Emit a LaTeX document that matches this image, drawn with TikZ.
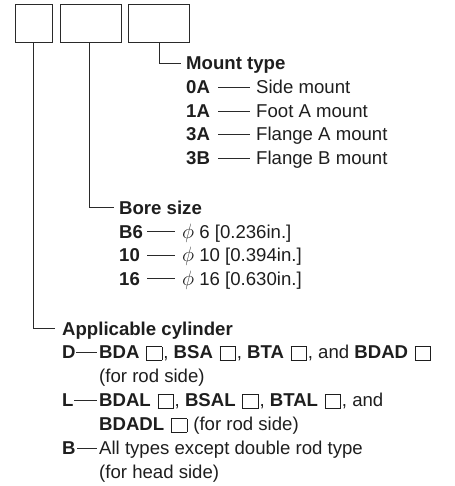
\documentclass[tikz,border=0pt]{standalone}
\usepackage{fontspec}
\setmainfont{Liberation Sans}
\usetikzlibrary{calc}
\definecolor{ink}{HTML}{1E1E1E}
\definecolor{lineclr}{HTML}{2A2A2A}
\newcommand{\sqbox}{\kern1.5pt{\setlength{\fboxsep}{0pt}\setlength{\fboxrule}{0.6pt}\raisebox{-1.5pt}{\fbox{\rule{0pt}{13pt}\rule{15pt}{0pt}}}}\kern1pt}
\newcommand{\phisym}{\raisebox{0pt}{\scalebox{1.2}{$\phi$}}}
\begin{document}
\begin{tikzpicture}[x=1pt,y=-1pt,
  txt/.style={inner sep=0pt,anchor=base west,font=\fontsize{18.6}{22}\selectfont,text=ink},
  hd/.style={txt,font=\fontsize{18.6}{22}\selectfont\bfseries},
  code/.style={txt,font=\fontsize{18.6}{22}\selectfont\bfseries},
  selbox/.style={draw=lineclr,line width=0.9pt,inner sep=0pt,anchor=north west},
  conn/.style={draw=lineclr,line width=0.9pt}]
\useasboundingbox (0,0) rectangle (454,486);
% boxes
\node[selbox,minimum width=36.5pt,minimum height=37.5pt] (b1) at (15.3,4.3) {};
\node[selbox,minimum width=60.4pt,minimum height=37.5pt] (b2) at (60.3,4.3) {};
\node[selbox,minimum width=60.4pt,minimum height=37.5pt] (b3) at (128.3,4.3) {};
% Mount type
\node[hd] (mt) at (186,70) {Mount type};
\node[code] (c0A) at (186,94) {0A};
\node[txt] (d0A) at (256,94) {Side mount};
\node[code] (c1A) at (186,117.5) {1A};
\node[txt] (d1A) at (256,117.5) {Foot A mount};
\node[code] (c3A) at (186,141) {3A};
\node[txt] (d3A) at (256,141) {Flange A mount};
\node[code] (c3B) at (186,164.5) {3B};
\node[txt] (d3B) at (256,164.5) {Flange B mount};
\foreach \c/\d in {c0A/d0A,c1A/d1A,c3A/d3A,c3B/d3B}{
  \draw[conn] ($(\c.base west)+(32,-6.5)$) -- ($(\d.base west)+(-6,-6.5)$);
}
% Bore size
\node[hd] (bs) at (119,214) {Bore size};
\node[code] (cB6) at (119,238) {B6};
\node[txt] (dB6) at (182,238) {\phisym\ 6 [0.236in.]};
\node[code] (c10) at (119,261.5) {10};
\node[txt] (d10) at (182,261.5) {\phisym\ 10 [0.394in.]};
\node[code] (c16) at (119,285) {16};
\node[txt] (d16) at (182,285) {\phisym\ 16 [0.630in.]};
\foreach \c/\d in {cB6/dB6,c10/d10,c16/d16}{
  \draw[conn] ($(\c.base west)+(28,-6.5)$) -- ($(\d.base west)+(-7,-6.5)$);
}
% Applicable cylinder
\node[hd] (ac) at (62,335) {Applicable cylinder};
\node[code] (cD) at (62,358.5) {D};
\node[txt] (dD) at (99,358.5) {\textbf{BDA} \sqbox, \textbf{BSA} \sqbox, \textbf{BTA} \sqbox, and \textbf{BDAD} \sqbox};
\node[txt] (dD2) at (99,382.5) {(for rod side)};
\node[code] (cL) at (62,406.5) {L};
\node[txt] (dL) at (99,406.5) {\textbf{BDAL} \sqbox, \textbf{BSAL} \sqbox, \textbf{BTAL} \sqbox, and};
\node[txt] (dL2) at (99,430.5) {\textbf{BDADL} \sqbox\ (for rod side)};
\node[code] (cB) at (62,454.5) {B};
\node[txt] (dB) at (99,454.5) {All types except double rod type};
\node[txt] (dB2) at (99,478.5) {(for head side)};
\draw[conn] ($(cD.base west)+(14,-6.5)$) -- ($(dD.base west)+(-2,-6.5)$);
\draw[conn] ($(cL.base west)+(12,-6.5)$) -- ($(dL.base west)+(-2,-6.5)$);
\draw[conn] ($(cB.base west)+(15,-6.5)$) -- ($(dB.base west)+(-2,-6.5)$);
% stems
\draw[conn] (b3.south -| 159,0) |- ($(mt.base west)+(-5,-6.5)$);
\draw[conn] (b2.south -| 89.5,0) |- ($(bs.base west)+(-5,-6.5)$);
\draw[conn] (b1.south -| 33.5,0) |- ($(ac.base west)+(-7,-6.5)$);
\end{tikzpicture}
\end{document}
